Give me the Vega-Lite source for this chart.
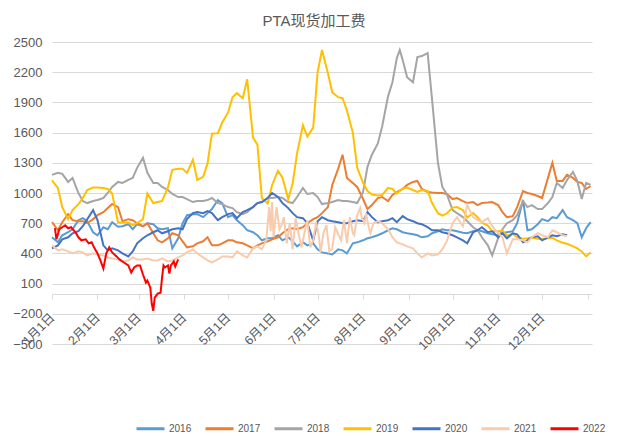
{
"$schema": "https://vega.github.io/schema/vega-lite/v6.json",
"width": 540, "height": 302,
"autosize": {"type": "none"},
"padding": {"left": 52, "top": 42, "right": 36, "bottom": 92},
"background": "white",
"title": {"text": "PTA现货加工费", "fontSize": 15, "fontWeight": "normal", "color": "#595959", "offset": 7, "dx": -8, "anchor": "middle"},
"config": {"font": "Liberation Sans, Noto Sans CJK SC", "view": {"stroke": null}},
"data": {"values": [
{"d":"2021/01/01","s":"2016","v":560},{"d":"2021/01/05","s":"2016","v":510},{"d":"2021/01/08","s":"2016","v":580},{"d":"2021/01/12","s":"2016","v":610},{"d":"2021/01/15","s":"2016","v":640},{"d":"2021/01/19","s":"2016","v":730},{"d":"2021/01/22","s":"2016","v":750},{"d":"2021/01/25","s":"2016","v":720},{"d":"2021/01/29","s":"2016","v":610},{"d":"2021/02/01","s":"2016","v":580},{"d":"2021/02/05","s":"2016","v":660},{"d":"2021/02/08","s":"2016","v":640},{"d":"2021/02/11","s":"2016","v":710},{"d":"2021/02/15","s":"2016","v":665},{"d":"2021/02/18","s":"2016","v":670},{"d":"2021/02/22","s":"2016","v":690},{"d":"2021/02/25","s":"2016","v":640},{"d":"2021/02/28","s":"2016","v":690},{"d":"2021/03/04","s":"2016","v":670},{"d":"2021/03/07","s":"2016","v":700},{"d":"2021/03/11","s":"2016","v":690},{"d":"2021/03/14","s":"2016","v":650},{"d":"2021/03/17","s":"2016","v":640},{"d":"2021/03/21","s":"2016","v":650},{"d":"2021/03/24","s":"2016","v":450},{"d":"2021/03/28","s":"2016","v":550},{"d":"2021/03/31","s":"2016","v":700},{"d":"2021/04/03","s":"2016","v":780},{"d":"2021/04/07","s":"2016","v":790},{"d":"2021/04/10","s":"2016","v":790},{"d":"2021/04/14","s":"2016","v":760},{"d":"2021/04/17","s":"2016","v":800},{"d":"2021/04/20","s":"2016","v":840},{"d":"2021/04/24","s":"2016","v":930},{"d":"2021/04/27","s":"2016","v":900},{"d":"2021/05/01","s":"2016","v":760},{"d":"2021/05/04","s":"2016","v":780},{"d":"2021/05/07","s":"2016","v":730},{"d":"2021/05/11","s":"2016","v":680},{"d":"2021/05/14","s":"2016","v":630},{"d":"2021/05/18","s":"2016","v":610},{"d":"2021/05/21","s":"2016","v":580},{"d":"2021/05/24","s":"2016","v":530},{"d":"2021/05/28","s":"2016","v":550},{"d":"2021/05/31","s":"2016","v":550},{"d":"2021/06/04","s":"2016","v":580},{"d":"2021/06/07","s":"2016","v":530},{"d":"2021/06/11","s":"2016","v":560},{"d":"2021/06/14","s":"2016","v":520},{"d":"2021/06/17","s":"2016","v":470},{"d":"2021/06/21","s":"2016","v":510},{"d":"2021/06/24","s":"2016","v":480},{"d":"2021/06/28","s":"2016","v":500},{"d":"2021/07/01","s":"2016","v":440},{"d":"2021/07/04","s":"2016","v":410},{"d":"2021/07/08","s":"2016","v":400},{"d":"2021/07/11","s":"2016","v":390},{"d":"2021/07/15","s":"2016","v":440},{"d":"2021/07/18","s":"2016","v":430},{"d":"2021/07/21","s":"2016","v":400},{"d":"2021/07/25","s":"2016","v":500},{"d":"2021/07/28","s":"2016","v":510},{"d":"2021/08/01","s":"2016","v":530},{"d":"2021/08/04","s":"2016","v":550},{"d":"2021/08/07","s":"2016","v":560},{"d":"2021/08/11","s":"2016","v":580},{"d":"2021/08/14","s":"2016","v":600},{"d":"2021/08/18","s":"2016","v":630},{"d":"2021/08/21","s":"2016","v":650},{"d":"2021/08/24","s":"2016","v":640},{"d":"2021/08/28","s":"2016","v":610},{"d":"2021/08/31","s":"2016","v":600},{"d":"2021/09/04","s":"2016","v":590},{"d":"2021/09/07","s":"2016","v":580},{"d":"2021/09/10","s":"2016","v":560},{"d":"2021/09/14","s":"2016","v":570},{"d":"2021/09/17","s":"2016","v":600},{"d":"2021/09/21","s":"2016","v":620},{"d":"2021/09/24","s":"2016","v":640},{"d":"2021/09/27","s":"2016","v":630},{"d":"2021/10/01","s":"2016","v":630},{"d":"2021/10/04","s":"2016","v":620},{"d":"2021/10/08","s":"2016","v":605},{"d":"2021/10/11","s":"2016","v":600},{"d":"2021/10/15","s":"2016","v":620},{"d":"2021/10/18","s":"2016","v":630},{"d":"2021/10/21","s":"2016","v":620},{"d":"2021/10/25","s":"2016","v":600},{"d":"2021/10/28","s":"2016","v":590},{"d":"2021/11/01","s":"2016","v":580},{"d":"2021/11/04","s":"2016","v":600},{"d":"2021/11/07","s":"2016","v":610},{"d":"2021/11/11","s":"2016","v":620},{"d":"2021/11/14","s":"2016","v":700},{"d":"2021/11/18","s":"2016","v":930},{"d":"2021/11/21","s":"2016","v":630},{"d":"2021/11/24","s":"2016","v":640},{"d":"2021/11/28","s":"2016","v":690},{"d":"2021/12/01","s":"2016","v":740},{"d":"2021/12/05","s":"2016","v":720},{"d":"2021/12/08","s":"2016","v":760},{"d":"2021/12/11","s":"2016","v":750},{"d":"2021/12/15","s":"2016","v":830},{"d":"2021/12/18","s":"2016","v":760},{"d":"2021/12/22","s":"2016","v":730},{"d":"2021/12/25","s":"2016","v":700},{"d":"2021/12/28","s":"2016","v":560},{"d":"2021/12/31","s":"2016","v":650},{"d":"2022/01/03","s":"2016","v":710},
{"d":"2021/01/01","s":"2017","v":710},{"d":"2021/01/05","s":"2017","v":630},{"d":"2021/01/08","s":"2017","v":710},{"d":"2021/01/12","s":"2017","v":790},{"d":"2021/01/15","s":"2017","v":730},{"d":"2021/01/19","s":"2017","v":720},{"d":"2021/01/22","s":"2017","v":720},{"d":"2021/01/25","s":"2017","v":700},{"d":"2021/01/29","s":"2017","v":740},{"d":"2021/02/01","s":"2017","v":780},{"d":"2021/02/05","s":"2017","v":810},{"d":"2021/02/08","s":"2017","v":850},{"d":"2021/02/11","s":"2017","v":890},{"d":"2021/02/15","s":"2017","v":860},{"d":"2021/02/18","s":"2017","v":720},{"d":"2021/02/22","s":"2017","v":740},{"d":"2021/02/25","s":"2017","v":730},{"d":"2021/02/28","s":"2017","v":700},{"d":"2021/03/04","s":"2017","v":670},{"d":"2021/03/07","s":"2017","v":700},{"d":"2021/03/11","s":"2017","v":600},{"d":"2021/03/14","s":"2017","v":530},{"d":"2021/03/17","s":"2017","v":510},{"d":"2021/03/21","s":"2017","v":550},{"d":"2021/03/24","s":"2017","v":600},{"d":"2021/03/28","s":"2017","v":580},{"d":"2021/03/31","s":"2017","v":520},{"d":"2021/04/03","s":"2017","v":460},{"d":"2021/04/07","s":"2017","v":470},{"d":"2021/04/10","s":"2017","v":500},{"d":"2021/04/14","s":"2017","v":520},{"d":"2021/04/17","s":"2017","v":560},{"d":"2021/04/20","s":"2017","v":480},{"d":"2021/04/24","s":"2017","v":480},{"d":"2021/04/27","s":"2017","v":500},{"d":"2021/05/01","s":"2017","v":530},{"d":"2021/05/04","s":"2017","v":530},{"d":"2021/05/07","s":"2017","v":510},{"d":"2021/05/11","s":"2017","v":500},{"d":"2021/05/14","s":"2017","v":480},{"d":"2021/05/18","s":"2017","v":450},{"d":"2021/05/21","s":"2017","v":480},{"d":"2021/05/24","s":"2017","v":500},{"d":"2021/05/28","s":"2017","v":520},{"d":"2021/05/31","s":"2017","v":540},{"d":"2021/06/04","s":"2017","v":560},{"d":"2021/06/07","s":"2017","v":600},{"d":"2021/06/11","s":"2017","v":640},{"d":"2021/06/14","s":"2017","v":650},{"d":"2021/06/17","s":"2017","v":640},{"d":"2021/06/21","s":"2017","v":660},{"d":"2021/06/24","s":"2017","v":700},{"d":"2021/06/28","s":"2017","v":740},{"d":"2021/07/01","s":"2017","v":760},{"d":"2021/07/04","s":"2017","v":800},{"d":"2021/07/08","s":"2017","v":860},{"d":"2021/07/11","s":"2017","v":1080},{"d":"2021/07/15","s":"2017","v":1240},{"d":"2021/07/18","s":"2017","v":1380},{"d":"2021/07/21","s":"2017","v":1150},{"d":"2021/07/25","s":"2017","v":1100},{"d":"2021/07/28","s":"2017","v":1060},{"d":"2021/08/01","s":"2017","v":940},{"d":"2021/08/04","s":"2017","v":840},{"d":"2021/08/07","s":"2017","v":880},{"d":"2021/08/11","s":"2017","v":950},{"d":"2021/08/14","s":"2017","v":960},{"d":"2021/08/18","s":"2017","v":920},{"d":"2021/08/21","s":"2017","v":980},{"d":"2021/08/24","s":"2017","v":1010},{"d":"2021/08/28","s":"2017","v":1040},{"d":"2021/08/31","s":"2017","v":1080},{"d":"2021/09/04","s":"2017","v":1110},{"d":"2021/09/07","s":"2017","v":1120},{"d":"2021/09/10","s":"2017","v":1040},{"d":"2021/09/14","s":"2017","v":1010},{"d":"2021/09/17","s":"2017","v":1005},{"d":"2021/09/21","s":"2017","v":1000},{"d":"2021/09/24","s":"2017","v":1000},{"d":"2021/09/27","s":"2017","v":990},{"d":"2021/10/01","s":"2017","v":940},{"d":"2021/10/04","s":"2017","v":950},{"d":"2021/10/08","s":"2017","v":920},{"d":"2021/10/11","s":"2017","v":900},{"d":"2021/10/15","s":"2017","v":910},{"d":"2021/10/18","s":"2017","v":880},{"d":"2021/10/21","s":"2017","v":900},{"d":"2021/10/25","s":"2017","v":905},{"d":"2021/10/28","s":"2017","v":910},{"d":"2021/11/01","s":"2017","v":880},{"d":"2021/11/04","s":"2017","v":810},{"d":"2021/11/07","s":"2017","v":760},{"d":"2021/11/11","s":"2017","v":770},{"d":"2021/11/14","s":"2017","v":860},{"d":"2021/11/18","s":"2017","v":1020},{"d":"2021/11/21","s":"2017","v":1000},{"d":"2021/11/24","s":"2017","v":990},{"d":"2021/11/28","s":"2017","v":970},{"d":"2021/12/01","s":"2017","v":950},{"d":"2021/12/05","s":"2017","v":1150},{"d":"2021/12/08","s":"2017","v":1300},{"d":"2021/12/11","s":"2017","v":1120},{"d":"2021/12/15","s":"2017","v":1120},{"d":"2021/12/18","s":"2017","v":1180},{"d":"2021/12/22","s":"2017","v":1150},{"d":"2021/12/25","s":"2017","v":1110},{"d":"2021/12/28","s":"2017","v":1100},{"d":"2021/12/31","s":"2017","v":1040},{"d":"2022/01/03","s":"2017","v":1070},
{"d":"2021/01/01","s":"2018","v":1180},{"d":"2021/01/05","s":"2018","v":1200},{"d":"2021/01/08","s":"2018","v":1190},{"d":"2021/01/12","s":"2018","v":1110},{"d":"2021/01/15","s":"2018","v":1150},{"d":"2021/01/19","s":"2018","v":1000},{"d":"2021/01/22","s":"2018","v":920},{"d":"2021/01/25","s":"2018","v":900},{"d":"2021/01/29","s":"2018","v":920},{"d":"2021/02/01","s":"2018","v":930},{"d":"2021/02/05","s":"2018","v":950},{"d":"2021/02/08","s":"2018","v":1000},{"d":"2021/02/11","s":"2018","v":1060},{"d":"2021/02/15","s":"2018","v":1110},{"d":"2021/02/18","s":"2018","v":1100},{"d":"2021/02/22","s":"2018","v":1130},{"d":"2021/02/25","s":"2018","v":1150},{"d":"2021/02/28","s":"2018","v":1250},{"d":"2021/03/04","s":"2018","v":1350},{"d":"2021/03/07","s":"2018","v":1200},{"d":"2021/03/11","s":"2018","v":1100},{"d":"2021/03/14","s":"2018","v":1100},{"d":"2021/03/17","s":"2018","v":1060},{"d":"2021/03/21","s":"2018","v":1030},{"d":"2021/03/24","s":"2018","v":990},{"d":"2021/03/28","s":"2018","v":960},{"d":"2021/03/31","s":"2018","v":960},{"d":"2021/04/03","s":"2018","v":940},{"d":"2021/04/07","s":"2018","v":910},{"d":"2021/04/10","s":"2018","v":920},{"d":"2021/04/14","s":"2018","v":920},{"d":"2021/04/17","s":"2018","v":930},{"d":"2021/04/20","s":"2018","v":950},{"d":"2021/04/24","s":"2018","v":900},{"d":"2021/04/27","s":"2018","v":890},{"d":"2021/05/01","s":"2018","v":860},{"d":"2021/05/04","s":"2018","v":850},{"d":"2021/05/07","s":"2018","v":810},{"d":"2021/05/11","s":"2018","v":790},{"d":"2021/05/14","s":"2018","v":810},{"d":"2021/05/18","s":"2018","v":860},{"d":"2021/05/21","s":"2018","v":900},{"d":"2021/05/24","s":"2018","v":910},{"d":"2021/05/28","s":"2018","v":950},{"d":"2021/05/31","s":"2018","v":950},{"d":"2021/06/04","s":"2018","v":960},{"d":"2021/06/07","s":"2018","v":950},{"d":"2021/06/11","s":"2018","v":910},{"d":"2021/06/14","s":"2018","v":900},{"d":"2021/06/17","s":"2018","v":960},{"d":"2021/06/21","s":"2018","v":1050},{"d":"2021/06/24","s":"2018","v":990},{"d":"2021/06/28","s":"2018","v":1000},{"d":"2021/07/01","s":"2018","v":960},{"d":"2021/07/04","s":"2018","v":890},{"d":"2021/07/08","s":"2018","v":900},{"d":"2021/07/11","s":"2018","v":910},{"d":"2021/07/15","s":"2018","v":930},{"d":"2021/07/18","s":"2018","v":920},{"d":"2021/07/21","s":"2018","v":920},{"d":"2021/07/25","s":"2018","v":910},{"d":"2021/07/28","s":"2018","v":900},{"d":"2021/08/01","s":"2018","v":1010},{"d":"2021/08/04","s":"2018","v":1260},{"d":"2021/08/07","s":"2018","v":1380},{"d":"2021/08/11","s":"2018","v":1490},{"d":"2021/08/14","s":"2018","v":1660},{"d":"2021/08/18","s":"2018","v":1960},{"d":"2021/08/21","s":"2018","v":2100},{"d":"2021/08/24","s":"2018","v":2340},{"d":"2021/08/26","s":"2018","v":2420},{"d":"2021/08/28","s":"2018","v":2320},{"d":"2021/08/31","s":"2018","v":2150},{"d":"2021/09/04","s":"2018","v":2100},{"d":"2021/09/07","s":"2018","v":2350},{"d":"2021/09/10","s":"2018","v":2360},{"d":"2021/09/14","s":"2018","v":2390},{"d":"2021/09/17","s":"2018","v":1930},{"d":"2021/09/21","s":"2018","v":1300},{"d":"2021/09/24","s":"2018","v":1060},{"d":"2021/09/27","s":"2018","v":990},{"d":"2021/10/01","s":"2018","v":830},{"d":"2021/10/04","s":"2018","v":800},{"d":"2021/10/08","s":"2018","v":760},{"d":"2021/10/11","s":"2018","v":720},{"d":"2021/10/15","s":"2018","v":660},{"d":"2021/10/18","s":"2018","v":630},{"d":"2021/10/21","s":"2018","v":560},{"d":"2021/10/25","s":"2018","v":480},{"d":"2021/10/28","s":"2018","v":380},{"d":"2021/11/01","s":"2018","v":550},{"d":"2021/11/04","s":"2018","v":640},{"d":"2021/11/07","s":"2018","v":700},{"d":"2021/11/11","s":"2018","v":730},{"d":"2021/11/14","s":"2018","v":780},{"d":"2021/11/18","s":"2018","v":920},{"d":"2021/11/21","s":"2018","v":860},{"d":"2021/11/24","s":"2018","v":880},{"d":"2021/11/28","s":"2018","v":840},{"d":"2021/12/01","s":"2018","v":840},{"d":"2021/12/05","s":"2018","v":900},{"d":"2021/12/08","s":"2018","v":960},{"d":"2021/12/11","s":"2018","v":1100},{"d":"2021/12/15","s":"2018","v":1050},{"d":"2021/12/18","s":"2018","v":1130},{"d":"2021/12/22","s":"2018","v":1210},{"d":"2021/12/25","s":"2018","v":1120},{"d":"2021/12/28","s":"2018","v":940},{"d":"2021/12/31","s":"2018","v":1100},{"d":"2022/01/03","s":"2018","v":1080},
{"d":"2021/01/01","s":"2019","v":1125},{"d":"2021/01/05","s":"2019","v":1050},{"d":"2021/01/08","s":"2019","v":860},{"d":"2021/01/12","s":"2019","v":740},{"d":"2021/01/15","s":"2019","v":830},{"d":"2021/01/19","s":"2019","v":890},{"d":"2021/01/22","s":"2019","v":950},{"d":"2021/01/25","s":"2019","v":1030},{"d":"2021/01/29","s":"2019","v":1055},{"d":"2021/02/01","s":"2019","v":1055},{"d":"2021/02/05","s":"2019","v":1050},{"d":"2021/02/08","s":"2019","v":1040},{"d":"2021/02/11","s":"2019","v":995},{"d":"2021/02/15","s":"2019","v":706},{"d":"2021/02/18","s":"2019","v":706},{"d":"2021/02/22","s":"2019","v":706},{"d":"2021/02/25","s":"2019","v":680},{"d":"2021/02/28","s":"2019","v":700},{"d":"2021/03/04","s":"2019","v":740},{"d":"2021/03/07","s":"2019","v":995},{"d":"2021/03/11","s":"2019","v":900},{"d":"2021/03/14","s":"2019","v":910},{"d":"2021/03/17","s":"2019","v":920},{"d":"2021/03/21","s":"2019","v":1055},{"d":"2021/03/24","s":"2019","v":1230},{"d":"2021/03/28","s":"2019","v":1240},{"d":"2021/03/31","s":"2019","v":1240},{"d":"2021/04/03","s":"2019","v":1200},{"d":"2021/04/07","s":"2019","v":1330},{"d":"2021/04/10","s":"2019","v":1130},{"d":"2021/04/14","s":"2019","v":1160},{"d":"2021/04/17","s":"2019","v":1294},{"d":"2021/04/20","s":"2019","v":1590},{"d":"2021/04/24","s":"2019","v":1593},{"d":"2021/04/27","s":"2019","v":1700},{"d":"2021/05/01","s":"2019","v":1800},{"d":"2021/05/04","s":"2019","v":1950},{"d":"2021/05/07","s":"2019","v":1992},{"d":"2021/05/11","s":"2019","v":1942},{"d":"2021/05/14","s":"2019","v":2130},{"d":"2021/05/18","s":"2019","v":1550},{"d":"2021/05/21","s":"2019","v":1480},{"d":"2021/05/24","s":"2019","v":950},{"d":"2021/05/28","s":"2019","v":895},{"d":"2021/05/31","s":"2019","v":1080},{"d":"2021/06/04","s":"2019","v":1220},{"d":"2021/06/07","s":"2019","v":1155},{"d":"2021/06/11","s":"2019","v":940},{"d":"2021/06/14","s":"2019","v":1095},{"d":"2021/06/17","s":"2019","v":1394},{"d":"2021/06/21","s":"2019","v":1673},{"d":"2021/06/24","s":"2019","v":1560},{"d":"2021/06/28","s":"2019","v":1650},{"d":"2021/07/01","s":"2019","v":2200},{"d":"2021/07/04","s":"2019","v":2420},{"d":"2021/07/08","s":"2019","v":2191},{"d":"2021/07/11","s":"2019","v":2000},{"d":"2021/07/15","s":"2019","v":1952},{"d":"2021/07/18","s":"2019","v":1942},{"d":"2021/07/21","s":"2019","v":1820},{"d":"2021/07/25","s":"2019","v":1600},{"d":"2021/07/28","s":"2019","v":1250},{"d":"2021/08/01","s":"2019","v":1100},{"d":"2021/08/04","s":"2019","v":1020},{"d":"2021/08/07","s":"2019","v":985},{"d":"2021/08/11","s":"2019","v":975},{"d":"2021/08/14","s":"2019","v":980},{"d":"2021/08/18","s":"2019","v":1050},{"d":"2021/08/21","s":"2019","v":1040},{"d":"2021/08/24","s":"2019","v":995},{"d":"2021/08/28","s":"2019","v":1045},{"d":"2021/08/31","s":"2019","v":1055},{"d":"2021/09/04","s":"2019","v":1030},{"d":"2021/09/07","s":"2019","v":1010},{"d":"2021/09/10","s":"2019","v":1030},{"d":"2021/09/14","s":"2019","v":1020},{"d":"2021/09/17","s":"2019","v":900},{"d":"2021/09/21","s":"2019","v":800},{"d":"2021/09/24","s":"2019","v":776},{"d":"2021/09/27","s":"2019","v":796},{"d":"2021/10/01","s":"2019","v":855},{"d":"2021/10/04","s":"2019","v":860},{"d":"2021/10/08","s":"2019","v":830},{"d":"2021/10/11","s":"2019","v":756},{"d":"2021/10/15","s":"2019","v":800},{"d":"2021/10/18","s":"2019","v":760},{"d":"2021/10/21","s":"2019","v":706},{"d":"2021/10/25","s":"2019","v":676},{"d":"2021/10/28","s":"2019","v":620},{"d":"2021/11/01","s":"2019","v":620},{"d":"2021/11/04","s":"2019","v":626},{"d":"2021/11/07","s":"2019","v":576},{"d":"2021/11/11","s":"2019","v":596},{"d":"2021/11/14","s":"2019","v":560},{"d":"2021/11/18","s":"2019","v":546},{"d":"2021/11/21","s":"2019","v":550},{"d":"2021/11/24","s":"2019","v":556},{"d":"2021/11/28","s":"2019","v":545},{"d":"2021/12/01","s":"2019","v":540},{"d":"2021/12/05","s":"2019","v":550},{"d":"2021/12/08","s":"2019","v":556},{"d":"2021/12/11","s":"2019","v":530},{"d":"2021/12/15","s":"2019","v":506},{"d":"2021/12/18","s":"2019","v":496},{"d":"2021/12/22","s":"2019","v":470},{"d":"2021/12/25","s":"2019","v":450},{"d":"2021/12/28","s":"2019","v":420},{"d":"2021/12/31","s":"2019","v":370},{"d":"2022/01/03","s":"2019","v":410},
{"d":"2021/01/01","s":"2020","v":450},{"d":"2021/01/05","s":"2020","v":480},{"d":"2021/01/08","s":"2020","v":540},{"d":"2021/01/12","s":"2020","v":560},{"d":"2021/01/15","s":"2020","v":600},{"d":"2021/01/19","s":"2020","v":620},{"d":"2021/01/22","s":"2020","v":670},{"d":"2021/01/25","s":"2020","v":740},{"d":"2021/01/29","s":"2020","v":830},{"d":"2021/02/01","s":"2020","v":730},{"d":"2021/02/05","s":"2020","v":480},{"d":"2021/02/08","s":"2020","v":430},{"d":"2021/02/11","s":"2020","v":450},{"d":"2021/02/15","s":"2020","v":430},{"d":"2021/02/18","s":"2020","v":400},{"d":"2021/02/22","s":"2020","v":370},{"d":"2021/02/25","s":"2020","v":420},{"d":"2021/02/28","s":"2020","v":500},{"d":"2021/03/04","s":"2020","v":550},{"d":"2021/03/07","s":"2020","v":580},{"d":"2021/03/11","s":"2020","v":610},{"d":"2021/03/14","s":"2020","v":630},{"d":"2021/03/17","s":"2020","v":600},{"d":"2021/03/21","s":"2020","v":620},{"d":"2021/03/24","s":"2020","v":640},{"d":"2021/03/28","s":"2020","v":650},{"d":"2021/03/31","s":"2020","v":640},{"d":"2021/04/03","s":"2020","v":740},{"d":"2021/04/07","s":"2020","v":800},{"d":"2021/04/10","s":"2020","v":810},{"d":"2021/04/14","s":"2020","v":800},{"d":"2021/04/17","s":"2020","v":820},{"d":"2021/04/20","s":"2020","v":800},{"d":"2021/04/24","s":"2020","v":730},{"d":"2021/04/27","s":"2020","v":760},{"d":"2021/05/01","s":"2020","v":790},{"d":"2021/05/04","s":"2020","v":800},{"d":"2021/05/07","s":"2020","v":750},{"d":"2021/05/11","s":"2020","v":810},{"d":"2021/05/14","s":"2020","v":830},{"d":"2021/05/18","s":"2020","v":860},{"d":"2021/05/21","s":"2020","v":900},{"d":"2021/05/24","s":"2020","v":910},{"d":"2021/05/28","s":"2020","v":950},{"d":"2021/05/31","s":"2020","v":1000},{"d":"2021/06/04","s":"2020","v":960},{"d":"2021/06/07","s":"2020","v":900},{"d":"2021/06/11","s":"2020","v":850},{"d":"2021/06/14","s":"2020","v":800},{"d":"2021/06/17","s":"2020","v":760},{"d":"2021/06/21","s":"2020","v":750},{"d":"2021/06/24","s":"2020","v":700},{"d":"2021/06/28","s":"2020","v":530},{"d":"2021/07/01","s":"2020","v":720},{"d":"2021/07/04","s":"2020","v":760},{"d":"2021/07/08","s":"2020","v":730},{"d":"2021/07/11","s":"2020","v":720},{"d":"2021/07/15","s":"2020","v":710},{"d":"2021/07/18","s":"2020","v":700},{"d":"2021/07/21","s":"2020","v":700},{"d":"2021/07/25","s":"2020","v":720},{"d":"2021/07/28","s":"2020","v":730},{"d":"2021/08/01","s":"2020","v":720},{"d":"2021/08/04","s":"2020","v":810},{"d":"2021/08/07","s":"2020","v":760},{"d":"2021/08/11","s":"2020","v":710},{"d":"2021/08/14","s":"2020","v":720},{"d":"2021/08/18","s":"2020","v":730},{"d":"2021/08/21","s":"2020","v":750},{"d":"2021/08/24","s":"2020","v":710},{"d":"2021/08/28","s":"2020","v":770},{"d":"2021/08/31","s":"2020","v":740},{"d":"2021/09/04","s":"2020","v":720},{"d":"2021/09/07","s":"2020","v":700},{"d":"2021/09/10","s":"2020","v":690},{"d":"2021/09/14","s":"2020","v":660},{"d":"2021/09/17","s":"2020","v":630},{"d":"2021/09/21","s":"2020","v":630},{"d":"2021/09/24","s":"2020","v":610},{"d":"2021/09/27","s":"2020","v":600},{"d":"2021/10/01","s":"2020","v":580},{"d":"2021/10/04","s":"2020","v":560},{"d":"2021/10/08","s":"2020","v":530},{"d":"2021/10/11","s":"2020","v":500},{"d":"2021/10/15","s":"2020","v":610},{"d":"2021/10/18","s":"2020","v":630},{"d":"2021/10/21","s":"2020","v":660},{"d":"2021/10/25","s":"2020","v":610},{"d":"2021/10/28","s":"2020","v":620},{"d":"2021/11/01","s":"2020","v":560},{"d":"2021/11/04","s":"2020","v":600},{"d":"2021/11/07","s":"2020","v":550},{"d":"2021/11/11","s":"2020","v":600},{"d":"2021/11/14","s":"2020","v":590},{"d":"2021/11/18","s":"2020","v":510},{"d":"2021/11/21","s":"2020","v":530},{"d":"2021/11/24","s":"2020","v":560},{"d":"2021/11/28","s":"2020","v":570},{"d":"2021/12/01","s":"2020","v":530},{"d":"2021/12/05","s":"2020","v":560},{"d":"2021/12/08","s":"2020","v":580},{"d":"2021/12/11","s":"2020","v":570},{"d":"2021/12/15","s":"2020","v":590},{"d":"2021/12/18","s":"2020","v":580},
{"d":"2021/01/01","s":"2021","v":480},{"d":"2021/01/05","s":"2021","v":430},{"d":"2021/01/08","s":"2021","v":440},{"d":"2021/01/12","s":"2021","v":420},{"d":"2021/01/15","s":"2021","v":400},{"d":"2021/01/19","s":"2021","v":420},{"d":"2021/01/22","s":"2021","v":410},{"d":"2021/01/25","s":"2021","v":380},{"d":"2021/01/29","s":"2021","v":400},{"d":"2021/02/01","s":"2021","v":390},{"d":"2021/02/05","s":"2021","v":380},{"d":"2021/02/08","s":"2021","v":360},{"d":"2021/02/11","s":"2021","v":350},{"d":"2021/02/15","s":"2021","v":340},{"d":"2021/02/18","s":"2021","v":320},{"d":"2021/02/22","s":"2021","v":330},{"d":"2021/02/25","s":"2021","v":360},{"d":"2021/02/28","s":"2021","v":340},{"d":"2021/03/04","s":"2021","v":340},{"d":"2021/03/07","s":"2021","v":350},{"d":"2021/03/11","s":"2021","v":330},{"d":"2021/03/14","s":"2021","v":330},{"d":"2021/03/17","s":"2021","v":350},{"d":"2021/03/21","s":"2021","v":320},{"d":"2021/03/24","s":"2021","v":330},{"d":"2021/03/28","s":"2021","v":360},{"d":"2021/03/31","s":"2021","v":380},{"d":"2021/04/03","s":"2021","v":410},{"d":"2021/04/07","s":"2021","v":440},{"d":"2021/04/10","s":"2021","v":400},{"d":"2021/04/14","s":"2021","v":360},{"d":"2021/04/17","s":"2021","v":330},{"d":"2021/04/20","s":"2021","v":310},{"d":"2021/04/24","s":"2021","v":340},{"d":"2021/04/27","s":"2021","v":370},{"d":"2021/05/01","s":"2021","v":370},{"d":"2021/05/04","s":"2021","v":360},{"d":"2021/05/07","s":"2021","v":420},{"d":"2021/05/11","s":"2021","v":380},{"d":"2021/05/14","s":"2021","v":360},{"d":"2021/05/18","s":"2021","v":450},{"d":"2021/05/21","s":"2021","v":470},{"d":"2021/05/24","s":"2021","v":440},{"d":"2021/05/27","s":"2021","v":530},{"d":"2021/05/29","s":"2021","v":860},{"d":"2021/05/30","s":"2021","v":620},{"d":"2021/05/31","s":"2021","v":910},{"d":"2021/06/01","s":"2021","v":560},{"d":"2021/06/03","s":"2021","v":860},{"d":"2021/06/05","s":"2021","v":640},{"d":"2021/06/07","s":"2021","v":700},{"d":"2021/06/08","s":"2021","v":760},{"d":"2021/06/10","s":"2021","v":500},{"d":"2021/06/12","s":"2021","v":700},{"d":"2021/06/14","s":"2021","v":440},{"d":"2021/06/16","s":"2021","v":750},{"d":"2021/06/18","s":"2021","v":600},{"d":"2021/06/20","s":"2021","v":460},{"d":"2021/06/22","s":"2021","v":600},{"d":"2021/06/24","s":"2021","v":730},{"d":"2021/06/26","s":"2021","v":460},{"d":"2021/06/28","s":"2021","v":530},{"d":"2021/06/30","s":"2021","v":710},{"d":"2021/07/02","s":"2021","v":560},{"d":"2021/07/03","s":"2021","v":410},{"d":"2021/07/05","s":"2021","v":600},{"d":"2021/07/07","s":"2021","v":680},{"d":"2021/07/09","s":"2021","v":420},{"d":"2021/07/11","s":"2021","v":450},{"d":"2021/07/13","s":"2021","v":660},{"d":"2021/07/16","s":"2021","v":560},{"d":"2021/07/17","s":"2021","v":530},{"d":"2021/07/19","s":"2021","v":730},{"d":"2021/07/21","s":"2021","v":500},{"d":"2021/07/23","s":"2021","v":760},{"d":"2021/07/25","s":"2021","v":600},{"d":"2021/07/26","s":"2021","v":580},{"d":"2021/07/28","s":"2021","v":780},{"d":"2021/07/30","s":"2021","v":850},{"d":"2021/07/31","s":"2021","v":760},{"d":"2021/08/02","s":"2021","v":700},{"d":"2021/08/03","s":"2021","v":800},{"d":"2021/08/05","s":"2021","v":650},{"d":"2021/08/06","s":"2021","v":600},{"d":"2021/08/08","s":"2021","v":700},{"d":"2021/08/11","s":"2021","v":720},{"d":"2021/08/14","s":"2021","v":700},{"d":"2021/08/18","s":"2021","v":640},{"d":"2021/08/21","s":"2021","v":560},{"d":"2021/08/24","s":"2021","v":510},{"d":"2021/08/28","s":"2021","v":490},{"d":"2021/08/31","s":"2021","v":470},{"d":"2021/09/04","s":"2021","v":450},{"d":"2021/09/07","s":"2021","v":400},{"d":"2021/09/10","s":"2021","v":360},{"d":"2021/09/14","s":"2021","v":400},{"d":"2021/09/17","s":"2021","v":380},{"d":"2021/09/21","s":"2021","v":390},{"d":"2021/09/24","s":"2021","v":440},{"d":"2021/09/27","s":"2021","v":520},{"d":"2021/10/01","s":"2021","v":700},{"d":"2021/10/04","s":"2021","v":760},{"d":"2021/10/08","s":"2021","v":670},{"d":"2021/10/11","s":"2021","v":880},{"d":"2021/10/15","s":"2021","v":760},{"d":"2021/10/18","s":"2021","v":730},{"d":"2021/10/21","s":"2021","v":710},{"d":"2021/10/25","s":"2021","v":750},{"d":"2021/10/28","s":"2021","v":670},{"d":"2021/11/01","s":"2021","v":600},{"d":"2021/11/04","s":"2021","v":560},{"d":"2021/11/07","s":"2021","v":400},{"d":"2021/11/11","s":"2021","v":540},{"d":"2021/11/14","s":"2021","v":540},{"d":"2021/11/18","s":"2021","v":530},{"d":"2021/11/21","s":"2021","v":510},{"d":"2021/11/24","s":"2021","v":560},{"d":"2021/11/28","s":"2021","v":600},{"d":"2021/12/01","s":"2021","v":580},{"d":"2021/12/05","s":"2021","v":560},{"d":"2021/12/08","s":"2021","v":630},{"d":"2021/12/11","s":"2021","v":610},{"d":"2021/12/15","s":"2021","v":580},{"d":"2021/12/18","s":"2021","v":570},
{"d":"2021/01/03","s":"2022","v":650},{"d":"2021/01/04","s":"2022","v":540},{"d":"2021/01/06","s":"2022","v":640},{"d":"2021/01/08","s":"2022","v":660},{"d":"2021/01/10","s":"2022","v":680},{"d":"2021/01/12","s":"2022","v":650},{"d":"2021/01/14","s":"2022","v":660},{"d":"2021/01/17","s":"2022","v":610},{"d":"2021/01/19","s":"2022","v":560},{"d":"2021/01/21","s":"2022","v":530},{"d":"2021/01/24","s":"2022","v":540},{"d":"2021/01/26","s":"2022","v":500},{"d":"2021/01/28","s":"2022","v":510},{"d":"2021/01/30","s":"2022","v":450},{"d":"2021/02/01","s":"2022","v":400},{"d":"2021/02/03","s":"2022","v":330},{"d":"2021/02/05","s":"2022","v":250},{"d":"2021/02/07","s":"2022","v":400},{"d":"2021/02/09","s":"2022","v":460},{"d":"2021/02/11","s":"2022","v":410},{"d":"2021/02/14","s":"2022","v":370},{"d":"2021/02/16","s":"2022","v":340},{"d":"2021/02/18","s":"2022","v":320},{"d":"2021/02/22","s":"2022","v":280},{"d":"2021/02/24","s":"2022","v":210},{"d":"2021/02/26","s":"2022","v":260},{"d":"2021/02/28","s":"2022","v":280},{"d":"2021/03/02","s":"2022","v":280},{"d":"2021/03/04","s":"2022","v":190},{"d":"2021/03/06","s":"2022","v":110},{"d":"2021/03/07","s":"2022","v":130},{"d":"2021/03/09","s":"2022","v":60},{"d":"2021/03/10","s":"2022","v":-100},{"d":"2021/03/11","s":"2022","v":-170},{"d":"2021/03/12","s":"2022","v":-40},{"d":"2021/03/14","s":"2022","v":0},{"d":"2021/03/16","s":"2022","v":10},{"d":"2021/03/17","s":"2022","v":160},{"d":"2021/03/18","s":"2022","v":280},{"d":"2021/03/19","s":"2022","v":260},{"d":"2021/03/21","s":"2022","v":280},{"d":"2021/03/22","s":"2022","v":200},{"d":"2021/03/23","s":"2022","v":280},{"d":"2021/03/25","s":"2022","v":320},{"d":"2021/03/26","s":"2022","v":270},{"d":"2021/03/28","s":"2022","v":340}
]},
"mark": {"type": "line", "strokeWidth": 2},
"encoding": {
"x": {"field": "d", "type": "temporal",
 "scale": {"domain": [{"year": 2021, "month": 1, "date": 1}, {"year": 2022, "month": 1, "date": 4}]},
 "axis": {"title": null, "values": [{"year": 2021, "month": 1, "date": 1}, {"year": 2021, "month": 2, "date": 1}, {"year": 2021, "month": 3, "date": 1}, {"year": 2021, "month": 4, "date": 1}, {"year": 2021, "month": 5, "date": 1}, {"year": 2021, "month": 6, "date": 1}, {"year": 2021, "month": 7, "date": 1}, {"year": 2021, "month": 8, "date": 1}, {"year": 2021, "month": 9, "date": 1}, {"year": 2021, "month": 10, "date": 1}, {"year": 2021, "month": 11, "date": 1}, {"year": 2021, "month": 12, "date": 1}, {"year": 2022, "month": 1, "date": 1}],
  "format": "%-m月%-d日", "labelExpr": "year(datum.value) > 2021 ? '' : datum.label",
  "labelAngle": -45, "labelAlign": "right", "labelBaseline": "middle", "labelPadding": 16,
  "labelFontSize": 12.5, "labelColor": "#595959", "labelOverlap": false, "labelBound": false, "labelFlush": false,
  "domainColor": "#D9D9D9", "tickColor": "#D9D9D9", "tickSize": 5, "grid": false, "offset": -50}},
"y": {"field": "v", "type": "quantitative",
 "scale": {"domain": [-500, 2500], "nice": false, "zero": false},
 "axis": {"title": null, "values": [-500, -200, 100, 400, 700, 1000, 1300, 1600, 1900, 2200, 2500], "format": "d",
  "ticks": false, "tickSize": 0, "domain": false, "grid": true, "gridColor": "#D9D9D9", "gridWidth": 1,
  "labelColor": "#595959", "labelFontSize": 13, "labelPadding": 10}},
"color": {"field": "s", "type": "nominal",
 "scale": {"domain": ["2016", "2017", "2018", "2019", "2020", "2021", "2022"], "range": ["#5B9BD5", "#ED7D31", "#A5A5A5", "#FFC000", "#4472C4", "#F8CBAD", "#FF0000"]},
 "legend": {"orient": "none", "legendX": 83, "legendY": 371, "direction": "horizontal", "title": null, "padding": 0,
  "symbolType": "stroke", "symbolSize": 784, "symbolStrokeWidth": 3, "labelFontSize": 10, "labelColor": "#595959", "labelOffset": 3, "columnPadding": 7}}
}
}
